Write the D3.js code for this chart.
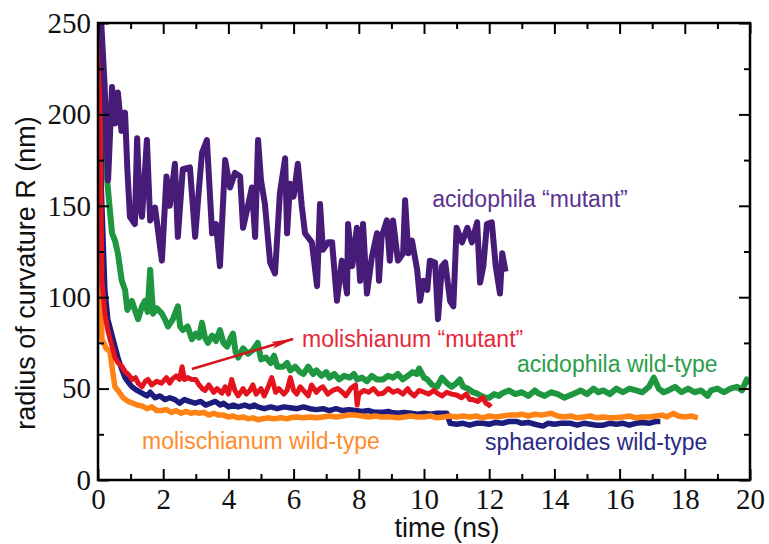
<!DOCTYPE html>
<html>
<head>
<meta charset="utf-8">
<script src="https://cdn.jsdelivr.net/npm/d3@7"></script>
<style>
  body { margin: 0; background: #fff; }
  svg { display: block; }
</style>
</head>
<body>
<svg id="chart" width="769" height="544"></svg>
<script>
// time (ns), radius of curvature R (nm)
var acidophilaMutant = [
  [0,265],[0.1,250],[0.2,217],[0.31,164],[0.43,215],[0.52,195],[0.61,212],[0.72,191],[0.83,201],[0.9,170],
  [0.98,144],[1.13,140],[1.2,187],[1.28,150],[1.35,144],[1.5,186],[1.6,142],[1.75,149],[1.96,120],[2.1,166],
  [2.2,150],[2.36,173],[2.45,133],[2.6,170],[2.82,171],[2.98,133],[3.1,160],[3.19,179],[3.34,186],[3.5,135],
  [3.62,140],[3.74,117],[3.9,175],[4.05,160],[4.2,168],[4.36,166],[4.45,138],[4.6,150],[4.72,160],[4.82,133],
  [4.91,186],[5.0,164],[5.12,151],[5.28,119],[5.43,113],[5.58,157],[5.74,176],[5.8,135],[5.89,162],[6.0,155],
  [6.13,173],[6.25,150],[6.35,135],[6.56,130],[6.72,106],[6.81,151],[6.9,126],[7.06,130],[7.18,130],[7.33,98],
  [7.48,120],[7.64,102],[7.67,140],[7.8,117],[7.94,138],[8.04,109],[8.13,140],[8.25,102],[8.4,122],[8.56,135],
  [8.62,109],[8.7,133],[8.86,142],[8.95,120],[9.05,142],[9.2,120],[9.36,124],[9.42,153],[9.52,124],[9.63,131],
  [9.79,115],[9.88,98],[9.98,109],[10.1,104],[10.18,120],[10.34,119],[10.43,88],[10.55,117],[10.65,119],[10.8,98],
  [10.9,95],[11.0,138],[11.17,130],[11.33,138],[11.47,130],[11.63,141],[11.72,108],[11.82,117],[11.93,140],[12.08,141],
  [12.2,117],[12.33,102],[12.4,124],[12.5,114]
];

var acidophilaWild = [
  [0.02,260],[0.15,200],[0.28,164],[0.43,135],[0.52,131],[0.61,124],[0.73,109],[0.83,104],[0.9,93],[1.04,98],
  [1.15,92],[1.23,88],[1.35,95],[1.44,98],[1.52,92],[1.6,115],[1.69,91],[1.8,94],[1.96,91],[2.05,88],
  [2.15,84],[2.3,88],[2.45,95],[2.52,84],[2.6,82],[2.75,84],[2.88,77],[3.0,80],[3.1,78],[3.19,86],
  [3.28,78],[3.37,75],[3.5,79],[3.62,76],[3.74,82],[3.85,75],[3.96,73],[4.05,77],[4.14,80],[4.22,70],
  [4.3,67],[4.45,72],[4.6,69],[4.75,71],[4.9,75],[5.0,66],[5.15,67],[5.3,64],[5.4,68],[5.5,62],
  [5.68,62],[5.8,64],[5.9,60],[6.05,62],[6.2,59],[6.3,58],[6.45,62],[6.6,58],[6.7,60],[6.85,57],
  [7.0,59],[7.1,56],[7.25,58],[7.4,55],[7.55,57],[7.73,56],[7.85,58],[7.95,55],[8.1,56],[8.25,54],
  [8.4,57],[8.55,55],[8.74,55],[8.9,57],[9.05,56],[9.2,58],[9.35,55],[9.5,57],[9.65,59],[9.78,58],
  [9.85,61],[10.0,56],[10.1,55],[10.25,52],[10.4,51],[10.55,56],[10.7,53],[10.85,51],[11.0,53],[11.1,55],
  [11.2,51],[11.35,50],[11.5,48],[11.6,47.5],[11.75,46],[11.9,45],[12.0,45],[12.15,47],[12.3,46],[12.4,47.5],
  [12.6,49],[12.8,47],[13.0,48],[13.2,46],[13.4,49],[13.5,47.5],[13.7,46],[13.9,48],[14.1,47],[14.3,45],
  [14.5,46.5],[14.7,48],[14.8,49],[15.0,47],[15.2,50],[15.35,48],[15.5,49],[15.7,47],[15.9,50],[16.1,48],
  [16.3,50],[16.5,49],[16.7,48],[16.9,51],[17.05,56],[17.2,50],[17.35,48],[17.5,49],[17.7,51],[17.9,48],
  [18.1,50],[18.3,48],[18.5,49],[18.7,46],[18.8,49],[19.0,50],[19.2,48],[19.4,50],[19.6,51],[19.75,49],
  [19.9,55],[20.0,53]
];

var molishianumMutant = [
  [0.03,270],[0.06,200],[0.12,109],[0.21,91],[0.3,82],[0.37,77],[0.45,72],[0.52,67],[0.62,64],[0.74,62],
  [0.84,59],[0.92,58],[1.05,55],[1.15,56],[1.23,53],[1.35,51],[1.45,54],[1.53,55],[1.65,52],[1.8,54],
  [1.95,53],[2.1,56],[2.2,53],[2.27,55],[2.4,57],[2.5,55],[2.58,62],[2.65,55],[2.75,56],[2.88,55],
  [3.0,55],[3.1,52],[3.2,50],[3.28,49],[3.4,52],[3.55,48],[3.65,50],[3.8,47.5],[3.9,51],[4.0,47],
  [4.1,55],[4.2,49],[4.3,46],[4.45,50],[4.55,47],[4.66,49],[4.75,52],[4.85,47],[5.0,50],[5.1,46],
  [5.2,50],[5.33,56],[5.45,48],[5.55,50],[5.7,47],[5.8,49],[5.9,56],[6.0,49],[6.1,47],[6.2,51],
  [6.3,49],[6.45,46],[6.55,52],[6.7,48],[6.8,50],[6.9,51],[7.05,47],[7.2,49],[7.35,50],[7.5,48],
  [7.6,46],[7.75,50],[7.9,52],[7.95,41],[8.0,47],[8.15,49],[8.3,48],[8.45,50],[8.6,47],[8.75,47.5],
  [8.9,50],[9.05,48],[9.2,49],[9.35,47],[9.5,50],[9.57,48],[9.7,46],[9.85,49],[10.0,48],[10.15,47],
  [10.3,49],[10.4,47.5],[10.55,46],[10.7,48],[10.85,47],[11.0,46.5],[11.15,45],[11.3,47],[11.4,44],[11.5,44],
  [11.65,43],[11.8,45],[11.9,42],[12.0,41],[12.05,40]
];

var sphaeroidesWild = [
  [0.05,270],[0.1,160],[0.21,104],[0.3,88],[0.46,77],[0.61,67],[0.72,61],[0.83,56],[0.95,53],[1.04,51],
  [1.2,49],[1.35,47.5],[1.5,46],[1.6,48],[1.75,45],[1.9,46],[2.05,44],[2.2,45],[2.36,44],[2.5,42],
  [2.65,44],[2.8,43],[2.98,42],[3.15,43],[3.3,41],[3.45,42],[3.6,43],[3.75,41],[3.85,42],[4.0,40],
  [4.15,41],[4.3,40],[4.5,41],[4.66,40],[4.8,41],[4.9,40],[5.1,39],[5.3,40],[5.5,39],[5.7,40],
  [5.9,39.5],[6.1,39],[6.3,40],[6.5,39],[6.7,38.5],[6.9,39],[7.1,38],[7.3,39],[7.5,38],[7.7,38.5],
  [7.9,38],[8.1,37.5],[8.3,38],[8.5,37],[8.7,37],[8.9,37.5],[9.0,37],[9.2,36.5],[9.4,37],[9.6,36.5],
  [9.8,36],[10.0,36.5],[10.2,36],[10.4,36.5],[10.6,36.5],[10.7,36.5],[10.8,31],[11.0,30.5],[11.2,31],[11.4,30],
  [11.6,31],[11.8,31],[12.0,30.5],[12.2,31.5],[12.4,31],[12.6,32],[12.85,32],[13.0,31],[13.2,31.5],[13.4,30.5],
  [13.65,29.5],[13.8,31],[14.0,30.5],[14.2,31],[14.5,31],[14.7,30],[14.9,31],[15.1,30.5],[15.3,30],[15.5,30],
  [15.7,31],[15.9,30.5],[16.1,31],[16.3,30],[16.5,31],[16.7,31.5],[16.9,31],[17.1,32],[17.25,32]
];

var molischianumWild = [
  [0.03,270],[0.06,140],[0.12,77],[0.25,72],[0.37,70],[0.46,58],[0.52,51],[0.61,49],[0.77,45],[0.92,43],
  [1.07,42],[1.2,41],[1.35,40.5],[1.5,39],[1.65,40],[1.8,38],[1.96,38],[2.1,38.5],[2.25,37],[2.4,38],
  [2.55,36.5],[2.7,37.5],[2.85,36.5],[2.98,37],[3.1,36.5],[3.25,37],[3.4,35.5],[3.55,36.5],[3.7,35.5],[3.85,35.5],
  [4.0,34.5],[4.14,35],[4.3,34],[4.45,34.5],[4.6,33.5],[4.75,34],[4.9,33],[5.05,33.5],[5.2,34],[5.4,33.5],
  [5.6,34],[5.8,33.5],[5.9,34],[6.1,34.5],[6.3,34],[6.5,34.5],[6.7,34],[6.9,34.5],[7.1,35],[7.3,34.5],
  [7.5,35],[7.7,35.5],[7.9,35.5],[8.1,35],[8.3,34.5],[8.5,35],[8.7,34.5],[9.0,34.5],[9.2,34],[9.4,34.5],
  [9.6,35],[9.8,34.5],[10.0,34.5],[10.2,35],[10.4,34],[10.6,34.5],[10.8,35],[11.0,34.5],[11.2,35],[11.4,34.5],
  [11.6,35],[11.8,34],[12.0,35],[12.2,34.5],[12.4,35],[12.6,35.5],[12.85,35.5],[13.0,36],[13.2,35],[13.4,36],
  [13.6,35.5],[13.9,36.5],[14.1,35],[14.3,34.5],[14.5,35],[14.7,34],[14.9,34.5],[15.1,35],[15.3,34],[15.5,34.5],
  [15.7,34],[15.9,34],[16.1,34.5],[16.3,35],[16.5,34],[16.7,34.5],[16.9,34.5],[17.1,35],[17.3,35.5],[17.45,34.5],
  [17.65,36.5],[17.8,35],[18.0,34.5],[18.2,35],[18.4,34]
];

var xMajorTicks = [0, 2, 4, 6, 8, 10, 12, 14, 16, 18, 20];
var xMinorTicks = [1, 3, 5, 7, 9, 11, 13, 15, 17, 19];
var yMajorTicks = [0, 50, 100, 150, 200, 250];
var yMinorTicks = [25, 75, 125, 175, 225];

// series drawing order and colours
var series = [
  {data: acidophilaWild, color: '#1f9640', width: 6},
  {data: sphaeroidesWild, color: '#1c1c7c', width: 5.5},
  {data: molischianumWild, color: '#ff8214', width: 5.5},
  {data: molishianumMutant, color: '#e4141e', width: 5},
  {data: acidophilaMutant, color: '#461c78', width: 6}
];

// annotation text, anchored at (t, R) for the start of the baseline
var labels = [
  {text: 'acidophila \u201cmutant\u201d', t: 10.25, r: 149.3, color: '#5a3290'},
  {text: 'molishianum \u201cmutant\u201d', t: 6.26, r: 72.8, color: '#e6283c'},
  {text: 'acidophila wild-type', t: 12.85, r: 59.1, color: '#2a9e4a'},
  {text: 'sphaeroides wild-type', t: 11.87, r: 16.4, color: '#2a2a84'},
  {text: 'molischianum wild-type', t: 1.35, r: 17, color: '#ff8c2a'}
];
var arrowFrom = [2.88, 60.7];
var arrowTo = [5.98, 77.1];

var svg = d3.select('#chart');
var padding = {t: 23, r: 19, b: 64, l: 98};
var chartWidth = +svg.attr('width') - padding.l - padding.r;
var chartHeight = +svg.attr('height') - padding.t - padding.b;

var xScale = d3.scaleLinear().domain([0, 20]).range([0, chartWidth]);
var yScale = d3.scaleLinear().domain([0, 250]).range([chartHeight, 0]);

var chartG = svg.append('g')
  .attr('transform', 'translate(' + [padding.l, padding.t] + ')');

chartG.append('clipPath').attr('id', 'plotClip')
  .append('rect').attr('width', chartWidth).attr('height', chartHeight);

var lineGen = d3.line()
  .x(function(d) { return xScale(d[0]); })
  .y(function(d) { return yScale(d[1]); });

var linesG = chartG.append('g').attr('clip-path', 'url(#plotClip)');
series.forEach(function(s) {
  linesG.append('path')
    .datum(s.data)
    .attr('d', lineGen)
    .attr('fill', 'none')
    .attr('stroke', s.color)
    .attr('stroke-width', s.width)
    .attr('stroke-linejoin', 'round');
});

// arrow for the molishianum mutant label
svg.append('defs').append('marker')
  .attr('id', 'arrowHead')
  .attr('viewBox', '0 -5 24 10')
  .attr('refX', 22).attr('refY', 0)
  .attr('markerWidth', 24).attr('markerHeight', 10)
  .attr('markerUnits', 'userSpaceOnUse')
  .attr('orient', 'auto')
  .append('path')
  .attr('d', 'M0,-3.5L24,0L0,3.5L5,0Z')
  .attr('fill', '#d8141e');

chartG.append('line')
  .attr('x1', xScale(arrowFrom[0])).attr('y1', yScale(arrowFrom[1]))
  .attr('x2', xScale(arrowTo[0])).attr('y2', yScale(arrowTo[1]))
  .attr('stroke', '#d8141e')
  .attr('stroke-width', 2.5)
  .attr('marker-end', 'url(#arrowHead)');

// axes: ticks point inward on all four sides
function styleAxis(g) {
  g.select('.domain').remove();
  g.selectAll('.tick line').attr('stroke', '#000').attr('stroke-width', 2);
}

chartG.append('g')
  .attr('transform', 'translate(0,' + chartHeight + ')')
  .call(d3.axisBottom(xScale).tickValues(xMajorTicks).tickSize(-11).tickPadding(8).tickFormat(d3.format('d')))
  .call(styleAxis)
  .selectAll('text')
  .attr('font-family', '"Liberation Serif", "Times New Roman", serif')
  .attr('font-size', 29).attr('fill', '#111');

chartG.append('g')
  .attr('transform', 'translate(0,' + chartHeight + ')')
  .call(d3.axisBottom(xScale).tickValues(xMinorTicks).tickSize(-6).tickFormat(''))
  .call(styleAxis);

chartG.append('g')
  .call(d3.axisTop(xScale).tickValues(xMajorTicks).tickSize(-11).tickFormat(''))
  .call(styleAxis);
chartG.append('g')
  .call(d3.axisTop(xScale).tickValues(xMinorTicks).tickSize(-6).tickFormat(''))
  .call(styleAxis);

chartG.append('g')
  .call(d3.axisLeft(yScale).tickValues(yMajorTicks).tickSize(-11).tickPadding(7).tickFormat(d3.format('d')))
  .call(styleAxis)
  .selectAll('text')
  .attr('font-family', '"Liberation Serif", "Times New Roman", serif')
  .attr('font-size', 29).attr('fill', '#111');
chartG.append('g')
  .call(d3.axisLeft(yScale).tickValues(yMinorTicks).tickSize(-6).tickFormat(''))
  .call(styleAxis);

chartG.append('g')
  .attr('transform', 'translate(' + chartWidth + ',0)')
  .call(d3.axisRight(yScale).tickValues(yMajorTicks).tickSize(-11).tickFormat(''))
  .call(styleAxis);
chartG.append('g')
  .attr('transform', 'translate(' + chartWidth + ',0)')
  .call(d3.axisRight(yScale).tickValues(yMinorTicks).tickSize(-6).tickFormat(''))
  .call(styleAxis);

// frame
chartG.append('rect')
  .attr('width', chartWidth).attr('height', chartHeight)
  .attr('fill', 'none').attr('stroke', '#000').attr('stroke-width', 2.5);

// curve labels
chartG.selectAll('.curveLabel')
  .data(labels)
  .enter()
  .append('text')
  .attr('class', 'curveLabel')
  .attr('x', function(d) { return xScale(d.t); })
  .attr('y', function(d) { return yScale(d.r); })
  .attr('font-family', '"Liberation Sans", Arial, sans-serif')
  .attr('font-size', 23)
  .attr('fill', function(d) { return d.color; })
  .text(function(d) { return d.text; });

// axis titles
svg.append('text')
  .attr('x', 447).attr('y', 537)
  .attr('text-anchor', 'middle')
  .attr('font-family', '"Liberation Sans", Arial, sans-serif')
  .attr('font-size', 27).attr('fill', '#111')
  .text('time (ns)');

svg.append('text')
  .attr('transform', 'translate(35,273) rotate(-90)')
  .attr('text-anchor', 'middle')
  .attr('font-family', '"Liberation Sans", Arial, sans-serif')
  .attr('font-size', 27).attr('fill', '#111')
  .text('radius of curvature R (nm)');
</script>
</body>
</html>
